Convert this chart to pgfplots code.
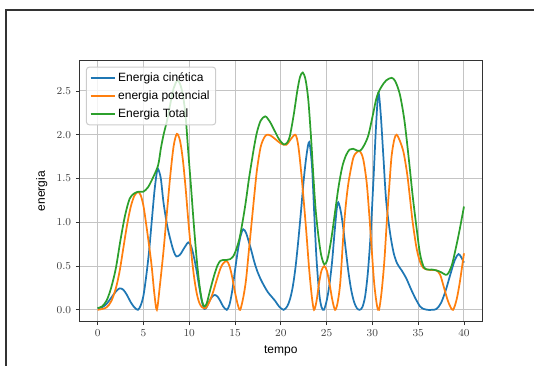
\documentclass[border=0pt]{standalone}
\usepackage{fontspec}
\setmainfont{Liberation Sans}
\usepackage{pgfplots}
\pgfplotsset{compat=1.18}
\usepackage{pgfplotstable}

\definecolor{mplblue}{HTML}{1F77B4}
\definecolor{mplorange}{HTML}{FF7F0E}
\definecolor{mplgreen}{HTML}{2CA02C}
\definecolor{gridgray}{HTML}{C4C4C4}
\definecolor{legendedge}{HTML}{CCCCCC}

% energia cinetica
\pgfplotstableread{
t K
0 0.02
0.5 0.03
1.0 0.07
1.5 0.14
2.0 0.21
2.4 0.245
2.8 0.23
3.2 0.17
3.6 0.09
4.0 0.03
4.4 0.00
4.7 0.05
5.0 0.16
5.3 0.38
5.6 0.65
5.9 1.00
6.2 1.35
6.45 1.56
6.6 1.61
6.9 1.50
7.2 1.22
7.6 0.96
7.95 0.80
8.3 0.67
8.6 0.61
9.0 0.63
9.3 0.68
9.6 0.73
9.9 0.77
10.2 0.73
10.5 0.61
10.8 0.45
11.1 0.26
11.4 0.09
11.65 0.01
11.9 0.03
12.2 0.10
12.5 0.15
12.8 0.17
13.1 0.15
13.4 0.10
13.7 0.04
14.1 0.00
14.4 0.06
14.7 0.22
15.0 0.45
15.3 0.67
15.6 0.84
15.9 0.92
16.2 0.88
16.5 0.78
16.8 0.67
17.1 0.55
17.4 0.45
17.8 0.35
18.2 0.27
18.6 0.20
19.0 0.15
19.4 0.10
19.8 0.04
20.3 0.00
20.7 0.04
21.0 0.12
21.3 0.26
21.6 0.48
21.9 0.78
22.2 1.12
22.5 1.48
22.8 1.76
23.1 1.915
23.4 1.65
23.65 1.10
23.9 0.58
24.2 0.18
24.45 0.03
24.7 0.00
25.0 0.10
25.3 0.28
25.6 0.55
25.9 0.92
26.2 1.22
26.5 1.15
26.8 0.95
27.1 0.68
27.4 0.42
27.7 0.22
28.0 0.09
28.3 0.02
28.6 0.00
28.9 0.03
29.2 0.15
29.5 0.42
29.8 0.85
30.1 1.45
30.4 2.10
30.65 2.48
30.9 2.25
31.2 1.75
31.5 1.25
31.9 0.90
32.3 0.66
32.7 0.53
33.2 0.45
33.7 0.36
34.2 0.24
34.7 0.13
35.2 0.04
35.6 0.01
36.0 0.00
36.5 0.00
37.0 0.01
37.5 0.08
38.0 0.22
38.5 0.40
39.0 0.57
39.4 0.637
39.7 0.60
40.0 0.54
}\cinetica

% energia potencial
\pgfplotstableread{
t U
0 0.00
0.5 0.01
1.0 0.03
1.5 0.10
2.0 0.25
2.4 0.44
2.8 0.70
3.2 0.96
3.6 1.17
4.0 1.30
4.4 1.346
4.7 1.31
5.0 1.19
5.3 0.98
5.6 0.75
5.9 0.50
6.2 0.18
6.47 0.00
6.8 0.28
7.2 0.68
7.6 1.15
7.95 1.55
8.3 1.87
8.65 2.01
9.0 1.93
9.3 1.72
9.6 1.40
9.9 1.02
10.2 0.68
10.5 0.40
10.8 0.20
11.1 0.08
11.4 0.03
11.8 0.02
12.2 0.09
12.6 0.20
13.0 0.34
13.4 0.47
13.7 0.53
14.1 0.557
14.4 0.50
14.7 0.37
15.0 0.20
15.3 0.06
15.56 0.00
15.9 0.14
16.2 0.34
16.5 0.66
16.8 0.98
17.1 1.30
17.4 1.60
17.8 1.86
18.2 1.97
18.5 2.00
18.9 1.99
19.4 1.95
20.0 1.90
20.6 1.885
21.1 1.95
21.6 2.00
21.9 1.88
22.2 1.60
22.5 1.25
22.8 0.87
23.1 0.46
23.4 0.14
23.63 0.00
23.9 0.10
24.2 0.32
24.45 0.45
24.75 0.50
25.05 0.44
25.35 0.28
25.65 0.10
25.93 0.00
26.2 0.08
26.5 0.32
26.85 0.89
27.1 1.20
27.4 1.46
27.9 1.73
28.3 1.80
28.65 1.81
29.0 1.72
29.37 1.46
29.65 1.10
29.92 0.70
30.2 0.30
30.5 0.05
30.72 0.00
31.0 0.20
31.3 0.55
31.57 1.00
31.85 1.42
32.1 1.76
32.4 1.95
32.65 2.00
33.0 1.93
33.4 1.80
33.8 1.55
34.1 1.28
34.4 1.00
34.83 0.70
35.2 0.55
35.55 0.48
36.0 0.46
36.5 0.455
37.0 0.45
37.4 0.40
37.8 0.26
38.1 0.15
38.4 0.06
38.8 0.00
39.2 0.12
39.55 0.32
40.0 0.645
}\potencial

% energia total
\pgfplotstableread{
t E
0 0.02
0.5 0.04
1.0 0.11
1.5 0.26
2.0 0.48
2.5 0.80
3.0 1.08
3.5 1.27
4.0 1.33
4.5 1.35
5.0 1.35
5.5 1.40
6.0 1.50
6.6 1.65
6.9 1.84
7.2 2.00
7.6 2.17
7.95 2.36
8.3 2.53
8.7 2.62
9.0 2.58
9.3 2.46
9.6 2.22
9.9 1.80
10.2 1.40
10.5 0.98
10.8 0.60
11.1 0.30
11.4 0.10
11.65 0.04
11.9 0.07
12.2 0.19
12.5 0.31
12.8 0.42
13.1 0.51
13.4 0.56
13.7 0.57
14.1 0.57
14.5 0.58
14.8 0.61
15.1 0.68
15.5 0.82
15.9 1.05
16.2 1.25
16.5 1.48
16.8 1.68
17.1 1.87
17.4 2.03
17.8 2.16
18.3 2.21
18.8 2.15
19.3 2.05
19.8 1.95
20.3 1.89
20.7 1.91
21.0 1.99
21.4 2.22
21.8 2.50
22.1 2.66
22.4 2.71
22.7 2.63
23.0 2.40
23.3 1.97
23.56 1.52
23.8 1.15
24.1 0.85
24.4 0.63
24.75 0.52
25.1 0.58
25.5 0.80
25.9 1.10
26.3 1.40
26.7 1.63
27.1 1.76
27.5 1.83
27.9 1.84
28.3 1.82
28.7 1.82
29.1 1.88
29.55 1.99
30.0 2.20
30.4 2.40
30.65 2.48
31.0 2.55
31.5 2.62
32.1 2.65
32.5 2.61
33.0 2.46
33.5 2.16
34.0 1.70
34.4 1.30
34.83 0.93
35.2 0.64
35.6 0.49
36.0 0.46
36.5 0.46
37.0 0.45
37.5 0.43
38.0 0.40
38.3 0.42
38.7 0.52
39.1 0.70
39.5 0.90
40.0 1.18
}\total

\begin{document}
\begin{tikzpicture}
\useasboundingbox (-59.475pt,-32.475pt) rectangle (341.025pt,241.275pt);
% outer frame
\draw[black!80, line width=1pt] (-54.975pt,-40pt) -- (-54.975pt,233.775pt) -- (345pt,233.775pt);
\begin{axis}[
  at={(0pt,0pt)}, anchor=south west,
  scale only axis, width=302.25pt, height=195.75pt,
  xmin=-2, xmax=42, ymin=-0.1355, ymax=2.8455,
  xtick={0,5,...,40}, ytick={0,0.5,1,1.5,2,2.5},
  yticklabel style={/pgf/number format/.cd, fixed, fixed zerofill, precision=1},
  grid=major, major grid style={gridgray, line width=0.75pt},
  axis line style={black!80, line width=0.75pt},
  tick pos=left,
  tick align=outside, major tick length=2.6pt,
  tick style={black!80, line width=0.6pt},
  tick label style={font=\fontsize{8}{9}\selectfont, text=black!75},
  xlabel={tempo}, ylabel={energia},
  label style={font=\fontsize{9}{11}\selectfont},
  legend cell align=left,
  legend style={at={(0.0166,0.977)}, anchor=north west,
    draw=legendedge, line width=0.75pt, rounded corners=2pt,
    fill=white, fill opacity=0.8, text opacity=1,
    font=\fontsize{9}{11}\selectfont, inner xsep=2.5pt, inner ysep=2pt,
    row sep=1.5pt},
  legend image code/.code={\draw[#1] (0pt,0pt) -- (18pt,0pt);},
  every axis plot/.append style={line width=1.3pt, smooth, tension=0.5},
]
\addplot[mplblue] table[x=t, y=K] {\cinetica};
\addlegendentry{Energia cinética}
\addplot[mplorange] table[x=t, y=U] {\potencial};
\addlegendentry{energia potencial}
\addplot[mplgreen] table[x=t, y=E] {\total};
\addlegendentry{Energia Total}
\end{axis}
\end{tikzpicture}
\end{document}
